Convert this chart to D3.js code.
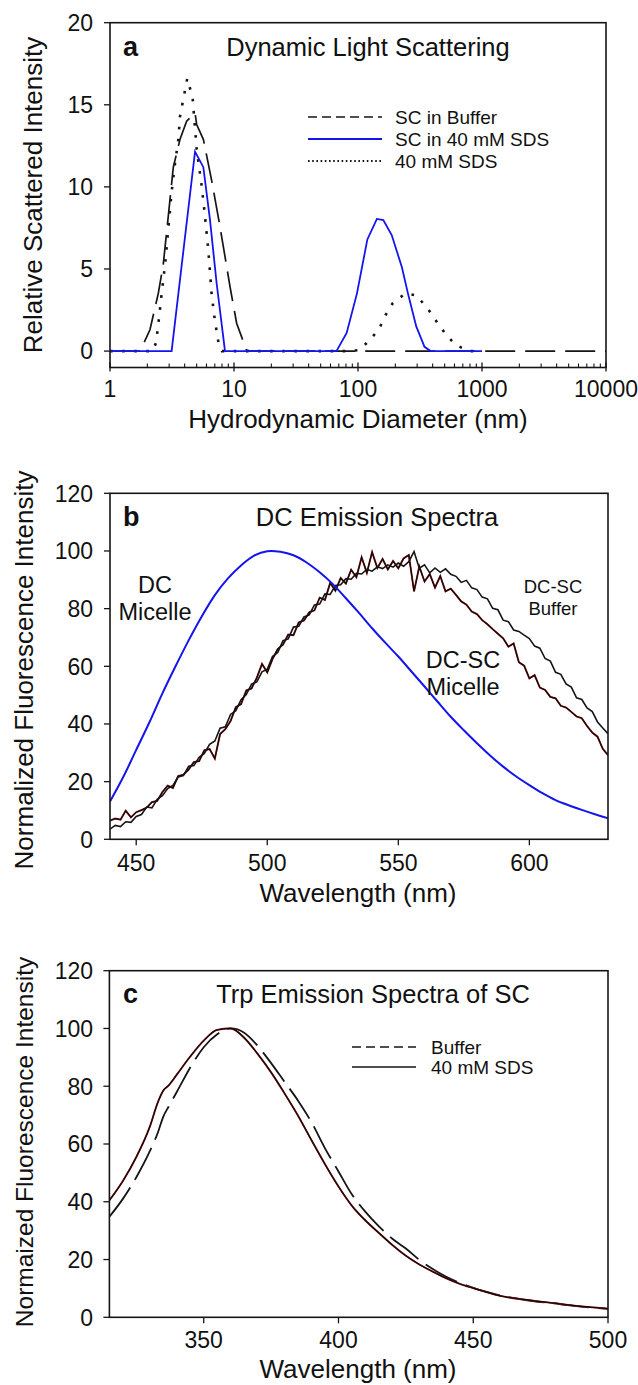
<!DOCTYPE html>
<html><head><meta charset="utf-8">
<script src="https://cdn.jsdelivr.net/npm/d3@7"></script>
<style>
body{margin:0;background:#fff}
svg{display:block}
text{font-family:"Liberation Sans",Arial,Helvetica,sans-serif;fill:#111}
</style>
</head><body>
<svg id="fig" width="638" height="1385"></svg>
<script>
// ---------------- Panel a: Dynamic Light Scattering ----------------
const aBufferD = [1,1.75,2.1,2.45,2.69,2.95,3.24,3.67,4.15,4.85,5.0,5.66,6.6,7.7,9.3,10.5,12.6,13.5,10000];
const aBufferI = [0,0,1.3,3.5,5.3,8.2,11.2,12.9,14.0,14.5,13.8,12.9,10.4,7.6,3.9,1.7,0.06,0,0];
const aSdsD    = [1,3.14,4.85,5.66,6.4,7.25,8.46,67,81,98,119,142,160,187,226,253,295,344,385,1000];
const aSdsI    = [0,0,12.15,11.2,8.0,4.1,0,0,1.1,3.5,6.8,8.05,7.98,7.07,5.1,3.5,1.5,0.26,0,0];
const aMicD    = [1,2.2,2.35,2.45,2.61,2.8,3.0,3.14,3.34,3.56,3.67,4.03,4.2,4.42,4.65,5.0,5.5,5.8,6.2,6.6,7.0,7.5,8.0,81,102,126,149,167,190,240,295,364,430,502,605,780,1000];
const aMicI    = [0,0,0.5,1.6,3.5,5.5,8.0,9.7,11.4,12.9,14.3,15.9,16.6,16.0,15.3,12.3,10.0,8.4,6.2,3.5,1.9,0.5,0,0,0.06,0.7,1.4,2.2,2.9,3.5,3.4,2.6,1.8,1.1,0.4,0,0];
const aXTicks  = [1,10,100,1000,10000];
const aYTicks  = [0,5,10,15,20];

// ---------------- Panel b: DC Emission Spectra ----------------
const bBlueW = [440,445,450,455,460,465,470,475,480,485,490,495,500,505,510,515,520,525,530,535,540,545,550,555,560,565,570,575,580,585,590,595,600,605,610,615,620,625,630];
const bBlueI = [13.1,21.5,31,40.5,50.6,60,69,77.3,84.7,90.5,95,98.4,99.9,99.7,98.5,96.0,92.6,88.5,83.6,78.5,73.2,68.2,63.4,58.2,53,47.7,42.5,37.8,33.3,29.1,25.2,21.8,18.8,16,13.6,11.8,10.2,8.7,7.3];
const bWave = d3.range(440, 631, 2);
const bBufferI = [3.5,4.8,4.4,6.1,5.9,7.9,8.6,11.2,10.9,13.9,15.1,17.6,18.7,21.6,22.1,25.3,25.6,28.4,29.8,32.9,34.1,38.5,39.0,43.3,44.6,48.4,50.2,53.8,54.6,58.1,59.0,63.4,64.8,68.9,69.5,73.6,73.9,77.1,77.8,81.3,81.6,85.1,84.9,88.0,88.3,90.4,90.2,92.2,92.0,93.6,93.0,94.5,93.9,95.2,94.4,95.8,94.7,96.3,99.8,94.0,95.2,92.4,94.1,92.6,93.8,91.9,91.2,89.1,89.8,87.2,86.6,84.0,83.4,80.1,79.6,76.0,75.5,72.6,72.1,70.8,69.6,67.0,66.3,62.7,61.8,57.9,57.2,53.9,52.8,49.1,48.5,45.6,44.3,40.7,38.6,36.6];
const bMicelleI = [6.5,7.2,6.8,9.9,7.6,9.4,10.1,11.0,12.9,13.3,16.4,18.6,17.8,21.9,22.4,24.2,26.8,27.1,30.9,31.3,28.0,36.5,38.2,41.0,45.8,46.9,51.6,52.3,56.0,60.8,57.9,62.5,66.0,67.5,71.0,70.8,75.2,75.9,78.7,79.4,83.8,83.0,88.9,86.2,90.6,88.7,93.5,90.9,97.8,92.4,99.6,94.1,97.2,93.6,96.5,94.0,97.4,98.6,86.0,94.6,89.4,92.0,87.3,91.3,86.0,86.9,84.8,82.5,81.4,79.0,78.1,76.0,74.6,72.9,71.3,69.7,66.8,67.9,61.4,60.2,55.8,56.9,52.6,51.8,49.4,48.9,46.3,45.7,44.2,42.6,42.0,39.3,37.0,35.6,31.4,29.2];
const bXTicks = [450,500,550,600];
const bYTicks = [0,20,40,60,80,100,120];

// ---------------- Panel c: Trp Emission Spectra of SC ----------------
const cWave    = [315,320,325,330,333,335,337,340,345,350,355,360,365,370,375,380,385,390,395,400,405,410,415,420,425,430,435,440,445,450,455,460,465,470,475,480,485,490,495,500];
const cSdsI    = [40.5,47.2,55.5,66,74.5,78.5,80.3,84,90.3,95.8,99.5,100,96.8,91.2,84.8,77.5,69.8,61.3,53,45.3,38.6,33.5,29.2,25,21.3,18.3,15.8,13.5,11.6,10.1,8.7,7.4,6.6,6.0,5.4,4.9,4.3,3.8,3.4,3.0];
const cBufferI = [34.8,41,48.5,57.5,64,69.5,73,78,86.5,93.5,98,100,98.5,94,88,81.5,75,67.5,58.5,50.5,42.5,36.5,31.5,27.2,23.8,19.9,16.7,14,11.9,10.2,8.8,7.6,6.7,5.9,5.3,4.8,4.2,3.7,3.3,2.9];
const cXTicks = [350,400,450,500];
const cYTicks = [0,20,40,60,80,100,120];

// ---------------- drawing ----------------
const svg = d3.select('#fig');
const INK = '#151515', BLUE = '#1414ee';
const TICKF = 23, AXF = 26, TITF = 25.5, LETF = 27;

function frame(x, y) {
  const [x0, x1] = x.range(), [y0, y1] = y.range();
  svg.append('rect').attr('x', x0).attr('y', y1).attr('width', x1 - x0).attr('height', y0 - y1)
    .attr('fill', 'none').attr('stroke', INK).attr('stroke-width', 1.6);
}
function yAxis(y, vals, xLeft) {
  vals.forEach(v => {
    svg.append('line').attr('x1', xLeft - 6).attr('x2', xLeft).attr('y1', y(v)).attr('y2', y(v))
      .attr('stroke', INK).attr('stroke-width', 1.3);
    svg.append('text').attr('x', 93).attr('y', y(v)).attr('dy', '0.36em').attr('text-anchor', 'end')
      .attr('font-size', TICKF).text(v);
  });
}
function xAxisOut(x, vals, yBase, labY) {
  vals.forEach(v => {
    svg.append('line').attr('x1', x(v)).attr('x2', x(v)).attr('y1', yBase).attr('y2', yBase + 6)
      .attr('stroke', INK).attr('stroke-width', 1.3);
    svg.append('text').attr('x', x(v)).attr('y', labY).attr('text-anchor', 'middle')
      .attr('font-size', TICKF).text(v);
  });
}
function yLabel(txt, cx, cy, fs) {
  svg.append('text').attr('transform', `translate(${cx},${cy}) rotate(-90)`).attr('dy', '0.35em')
    .attr('text-anchor', 'middle').attr('font-size', fs).text(txt);
}
function xLabel(txt, cx, y) {
  svg.append('text').attr('x', cx).attr('y', y).attr('text-anchor', 'middle').attr('font-size', AXF).text(txt);
}
function titleAndLetter(letter, title, yBase, tcx) {
  svg.append('text').attr('x', 123).attr('y', yBase).attr('font-size', LETF).attr('font-weight', 'bold').text(letter);
  svg.append('text').attr('x', tcx).attr('y', yBase).attr('text-anchor', 'middle').attr('font-size', TITF).text(title);
}
function path(xs, ys, x, y, curve) {
  return d3.line().x((d, i) => x(xs[i])).y((d, i) => y(ys[i])).curve(curve || d3.curveLinear)(xs);
}
function redBlack(xs, ys, x, y, clip, curve) {
  svg.append('path').attr('d', path(xs, ys, x, y, curve)).attr('fill', 'none').attr('stroke', '#8a1c1c')
    .attr('stroke-width', 1.9).attr('clip-path', clip);
  svg.append('path').attr('d', path(xs, ys, x, y, curve)).attr('fill', 'none').attr('stroke', '#140808')
    .attr('stroke-width', 1.2).attr('clip-path', clip);
}

// ---- Panel a ----
const xA = d3.scaleLog().domain([1, 10000]).range([110, 606]);
const yA = d3.scaleLinear().domain([-1, 20]).range([367.5, 22.7]);
svg.append('clipPath').attr('id', 'clipA').append('rect')
  .attr('x', 110).attr('y', 22.7).attr('width', 496).attr('height', 344.8);
svg.append('path').attr('d', path(aMicD, aMicI, xA, yA)).attr('fill', 'none').attr('stroke', INK)
  .attr('stroke-width', 2.6).attr('stroke-dasharray', '2.6,9.5').attr('clip-path', 'url(#clipA)');
svg.append('path').attr('d', path(aBufferD, aBufferI, xA, yA)).attr('fill', 'none').attr('stroke', INK)
  .attr('stroke-width', 1.7).attr('stroke-dasharray', '30,10').attr('clip-path', 'url(#clipA)');
svg.append('path').attr('d', path(aSdsD, aSdsI, xA, yA)).attr('fill', 'none').attr('stroke', BLUE)
  .attr('stroke-width', 1.8).attr('clip-path', 'url(#clipA)');
frame(xA, yA);
yAxis(yA, aYTicks, 110);
const yAx = yA(-1);
for (let dec = 1; dec < 10000; dec *= 10) {
  for (let m = 2; m <= 9; m++) {
    const v = dec * m;
    svg.append('line').attr('x1', xA(v)).attr('x2', xA(v)).attr('y1', yAx - 4).attr('y2', yAx)
      .attr('stroke', INK).attr('stroke-width', 1.1);
  }
}
aXTicks.forEach(v => {
  svg.append('line').attr('x1', xA(v)).attr('x2', xA(v)).attr('y1', yAx - 5).attr('y2', yAx + 4)
    .attr('stroke', INK).attr('stroke-width', 1.3);
  svg.append('text').attr('x', xA(v)).attr('y', 397).attr('text-anchor', 'middle').attr('font-size', TICKF).text(v);
});
xLabel('Hydrodynamic Diameter (nm)', 358, 428);
yLabel('Relative Scattered Intensity', 33, 195, AXF);
titleAndLetter('a', 'Dynamic Light Scattering', 56, 368);
const legA = [
  {t: 'SC in Buffer', c: INK, w: 1.6, da: '9,5'},
  {t: 'SC in 40 mM SDS', c: BLUE, w: 1.8, da: null},
  {t: '40 mM SDS', c: INK, w: 1.8, da: '1.6,2.6'}
];
legA.forEach((d, i) => {
  const yy = 117 + i * 22;
  const ln = svg.append('line').attr('x1', 308).attr('x2', 382).attr('y1', yy).attr('y2', yy)
    .attr('stroke', d.c).attr('stroke-width', d.w);
  if (d.da) ln.attr('stroke-dasharray', d.da);
  svg.append('text').attr('x', 395).attr('y', yy).attr('dy', '0.36em').attr('font-size', 19).text(d.t);
});

// ---- Panel b ----
const xB = d3.scaleLinear().domain([440, 630]).range([110, 608]);
const yB = d3.scaleLinear().domain([0, 120]).range([839.3, 493.3]);
svg.append('clipPath').attr('id', 'clipB').append('rect').attr('x', 110).attr('y', 493.3).attr('width', 498).attr('height', 346);
redBlack(bWave, bMicelleI, xB, yB, 'url(#clipB)');
svg.append('path').attr('d', path(bWave, bBufferI, xB, yB)).attr('fill', 'none').attr('stroke', INK)
  .attr('stroke-width', 1.6).attr('clip-path', 'url(#clipB)');
svg.append('path').attr('d', path(bBlueW, bBlueI, xB, yB, d3.curveCatmullRom)).attr('fill', 'none').attr('stroke', BLUE)
  .attr('stroke-width', 2).attr('clip-path', 'url(#clipB)');
frame(xB, yB);
yAxis(yB, bYTicks, 110);
xAxisOut(xB, bXTicks, 839.3, 871);
xLabel('Wavelength (nm)', 358, 902);
yLabel('Normalized Fluorescence Intensity', 24, 670, AXF);
titleAndLetter('b', 'DC Emission Spectra', 526, 377);
function note(lines, cx, ys, fs) {
  lines.forEach((t, i) => svg.append('text').attr('x', cx).attr('y', ys[i]).attr('text-anchor', 'middle').attr('font-size', fs).text(t));
}
note(['DC', 'Micelle'], 155, [593, 620], 23.5);
note(['DC-SC', 'Micelle'], 463, [668, 695], 23.5);
note(['DC-SC', 'Buffer'], 553, [593, 615], 18.5);

// ---- Panel c ----
const xC = d3.scaleLinear().domain([315, 500]).range([109.4, 608]);
const yC = d3.scaleLinear().domain([0, 120]).range([1317.3, 970.7]);
svg.append('clipPath').attr('id', 'clipC').append('rect').attr('x', 109.4).attr('y', 970.7).attr('width', 498.6).attr('height', 346.6);
svg.append('path').attr('d', path(cWave, cBufferI, xC, yC, d3.curveMonotoneX)).attr('fill', 'none').attr('stroke', INK)
  .attr('stroke-width', 1.8).attr('stroke-dasharray', '36,9').attr('clip-path', 'url(#clipC)');
redBlack(cWave, cSdsI, xC, yC, 'url(#clipC)', d3.curveMonotoneX);
frame(xC, yC);
yAxis(yC, cYTicks, 109.4);
xAxisOut(xC, cXTicks, 1317.3, 1348);
xLabel('Wavelength (nm)', 358, 1378);
yLabel('Normaized Fluorescence Intensity', 24, 1142, 24.5);
titleAndLetter('c', 'Trp Emission Spectra of SC', 1003, 373);
const legC = [
  {t: 'Buffer', da: '9,5'},
  {t: '40 mM SDS', da: null}
];
legC.forEach((d, i) => {
  const yy = 1047 + i * 20;
  const ln = svg.append('line').attr('x1', 352).attr('x2', 416).attr('y1', yy).attr('y2', yy)
    .attr('stroke', INK).attr('stroke-width', 1.6);
  if (d.da) ln.attr('stroke-dasharray', d.da);
  svg.append('text').attr('x', 431).attr('y', yy).attr('dy', '0.36em').attr('font-size', 19).text(d.t);
});
</script>
</body></html>
